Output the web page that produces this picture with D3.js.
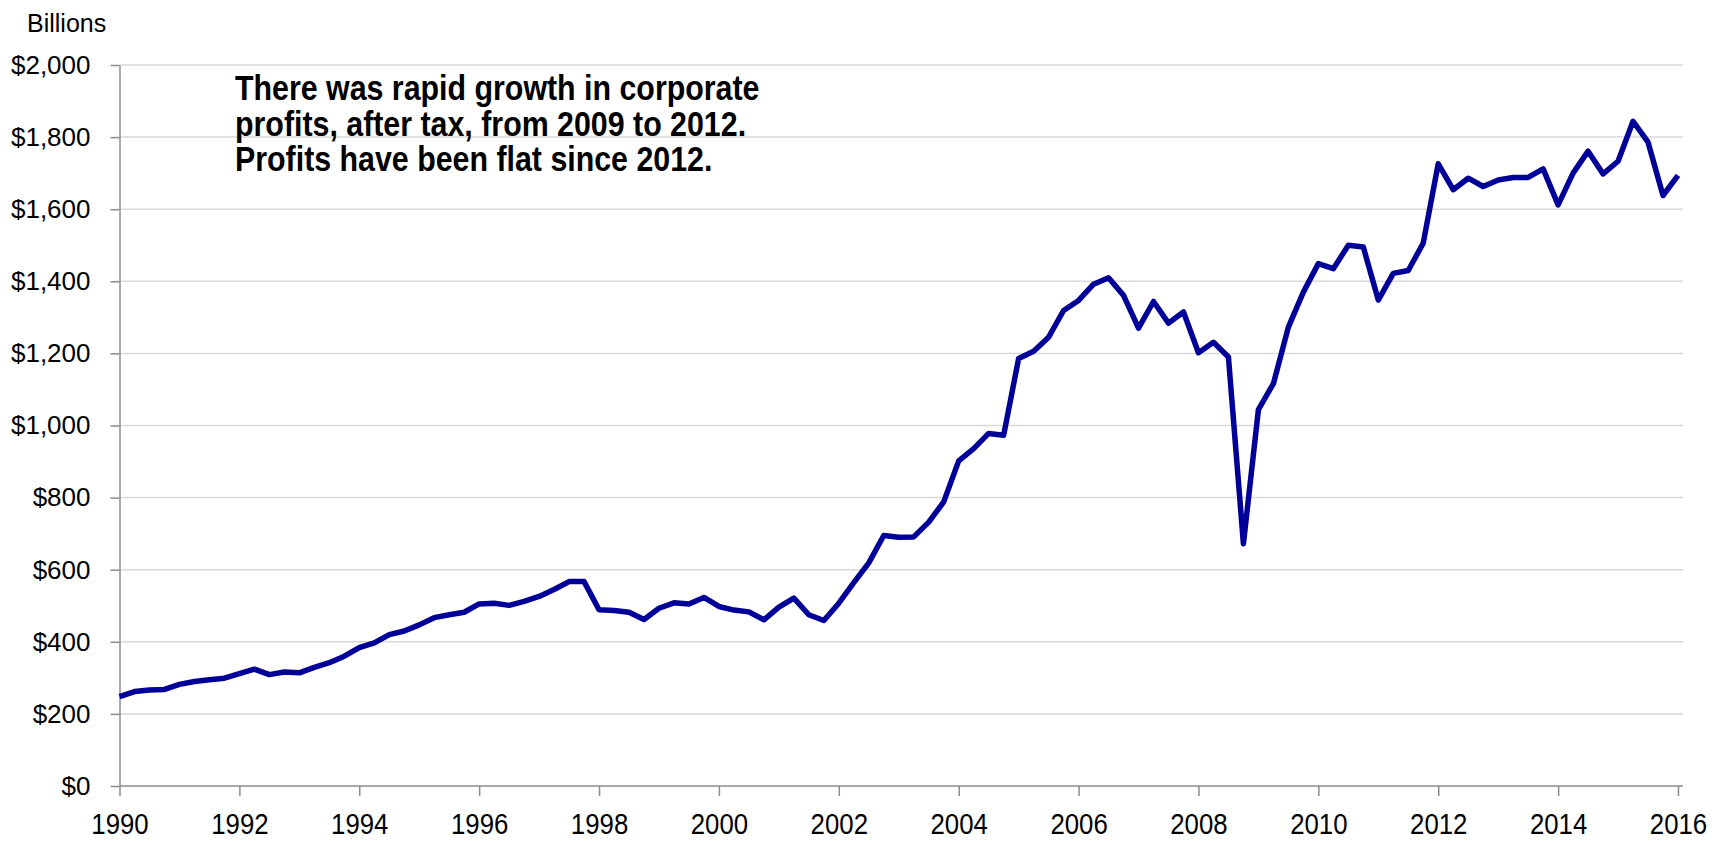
<!DOCTYPE html>
<meta charset="utf-8">
<style>
body { margin: 0; background: #fff; }
text { font-family: "Liberation Sans", Arial, sans-serif; }
.grid line { stroke: #d9d9d9; stroke-width: 1.5; }
.axis path, .axis line { stroke: #8c8c8c; stroke-width: 1.5; }
.axis text { fill: #000; }
</style>
<body>
<script src="https://d3js.org/d3.v7.min.js"></script>
<script>

// quarterly corporate profits after tax, billions, 1990 Q1 - 2016 Q1
var startYear = 1990;
var profits = [
  248, 262, 266, 268, 282, 290, 295, 299, 312, 324, 309, 316, 314, 329, 342, 360, 384, 397, 420, 430, 447, 467,
  475, 482, 505, 507, 501, 512, 526, 545, 567, 567, 489, 487, 482, 462, 493, 508, 505, 523, 498, 488,
  483, 461, 496, 521, 475, 459, 507, 564, 619, 695, 690, 691, 732, 788, 902, 936, 978, 973, 1186, 1206,
  1245, 1319, 1347, 1392, 1410, 1361, 1270, 1344, 1284, 1315, 1202, 1231, 1190, 672, 1044, 1116, 1273, 1370, 1449, 1435, 1500, 1495,
  1348, 1422, 1430, 1506, 1726, 1654, 1686, 1663, 1681, 1688, 1688, 1712, 1612, 1700, 1761, 1698, 1733, 1844, 1786, 1638, 1694
];
var xTicks = [1990, 1992, 1994, 1996, 1998, 2000, 2002, 2004, 2006, 2008, 2010, 2012, 2014, 2016];
var yTicks = [0, 200, 400, 600, 800, 1000, 1200, 1400, 1600, 1800, 2000];
var note = [
  "There was rapid growth in corporate",
  "profits, after tax, from 2009 to 2012.",
  "Profits have been flat since 2012."
];

var width = 1729, height = 841;
var plot = {left: 119.5, right: 1683, top: 65, bottom: 786};

var svg = d3.select("body").append("svg")
    .attr("width", width)
    .attr("height", height);

var x = d3.scaleLinear().domain([1990, 2016]).range([plot.left, 1678]);
var y = d3.scaleLinear().domain([0, 2000]).range([plot.bottom, plot.top]);

// horizontal gridlines
svg.append("g").attr("class", "grid")
  .selectAll("line")
  .data(yTicks.filter(function(d) { return d > 0; }))
  .enter().append("line")
    .attr("x1", plot.left).attr("x2", plot.right)
    .attr("y1", function(d) { return y(d); })
    .attr("y2", function(d) { return y(d); });

// y axis
var ya = svg.append("g")
    .attr("class", "axis")
    .attr("transform", "translate(" + plot.left + ",0)")
    .call(d3.axisLeft(y)
      .tickValues(yTicks)
      .tickSize(9)
      .tickSizeOuter(0)
      .tickPadding(20)
      .tickFormat(function(d) { return "$" + d3.format(",")(d); }));
ya.selectAll("text")
    .attr("font-family", null)
    .style("font-size", "26px");

// x axis
var xa = svg.append("g")
    .attr("class", "axis")
    .attr("transform", "translate(0," + plot.bottom + ")")
    .call(d3.axisBottom(x)
      .tickValues(xTicks)
      .tickSize(10)
      .tickSizeOuter(0)
      .tickPadding(16.5)
      .tickFormat(d3.format("d")));
xa.select(".domain").remove();
xa.append("line")
    .attr("x1", plot.left).attr("x2", plot.right)
    .attr("y1", 0).attr("y2", 0);
xa.selectAll("text")
    .attr("font-family", null)
    .style("font-size", "30px")
    .attr("transform", "scale(0.86,1)");

// the line
var line = d3.line()
    .x(function(d, i) { return x(startYear + i / 4); })
    .y(function(d) { return y(d); });

svg.append("path")
    .datum(profits)
    .attr("fill", "none")
    .attr("stroke", "#000099")
    .attr("stroke-width", 5.5)
    .attr("stroke-linejoin", "round")
    .attr("d", line);

// unit label
svg.append("text")
    .attr("x", 27)
    .attr("y", 32)
    .style("font-size", "25px")
    .text("Billions");

// note
svg.append("g").selectAll("text")
  .data(note)
  .enter().append("text")
    .attr("transform", function(d, i) {
      return "translate(235," + (100 + i * 35.5) + ") scale(0.88,1)"; })
    .style("font-size", "34.5px")
    .style("font-weight", "bold")
    .text(function(d) { return d; });

</script>
</body>
